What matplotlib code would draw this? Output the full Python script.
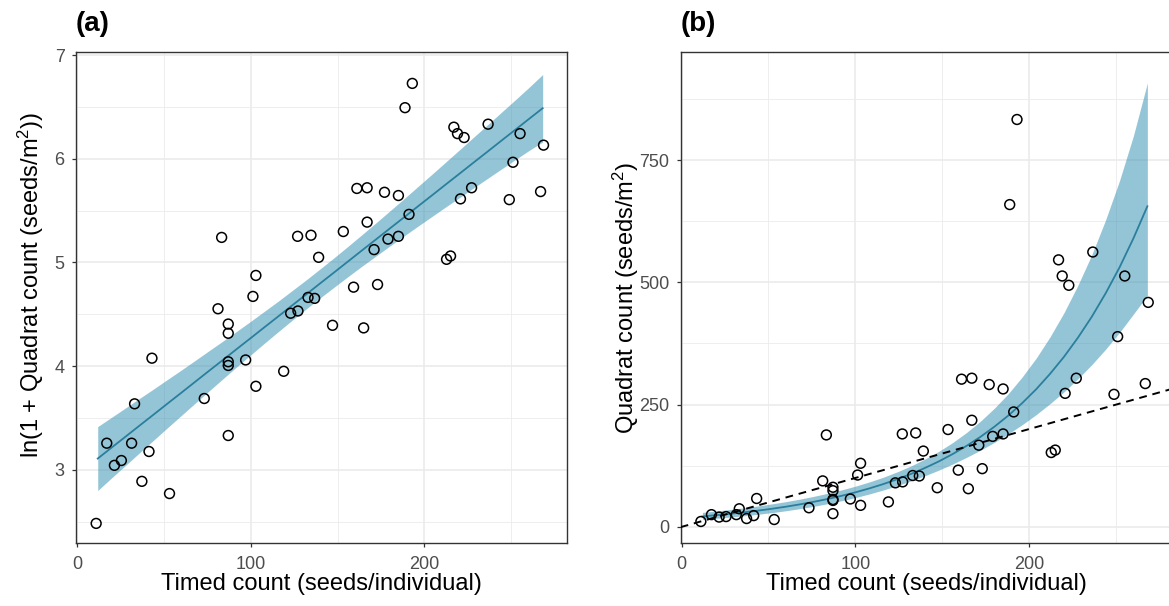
import numpy as np
import matplotlib
matplotlib.use("Agg")
import matplotlib.pyplot as plt
import matplotlib.ticker as mticker

plt.rcParams["font.family"] = ["Liberation Sans", "DejaVu Sans"]
plt.rcParams["mathtext.fontset"] = "custom"
plt.rcParams["mathtext.rm"] = "Liberation Sans"
plt.rcParams["mathtext.it"] = "Liberation Sans:italic"
plt.rcParams["mathtext.bf"] = "Liberation Sans:bold"

# ── data ─────────────────────────────────────────────────
timed = [11.1, 17.2, 21.6, 25.6, 31.5, 33.2, 37.4, 41.5, 43.2, 53.3,
         73.3, 81.2, 83.3, 87.1, 87.1, 87.1, 87.1, 87.1, 97.1, 101.3,
         103.0, 103.0, 119.0, 123.0, 127.2, 127.0, 134.7, 133.0, 136.8, 139.1,
         147.1, 153.3, 159.2, 161.1, 165.0, 167.0, 167.0, 171.0, 173.0, 177.0,
         179.0, 185.0, 185.0, 188.8, 191.1, 193.0, 212.7, 215.0, 216.9, 219.0,
         220.7, 222.8, 227.1, 236.6, 248.8, 250.9, 255.0, 266.8, 268.5]
quadrat = [11, 25, 20, 21, 25, 37, 17, 23, 58, 15,
           39, 94, 188, 81, 74, 56, 54, 27, 57, 106,
           130, 44, 51, 90, 92, 190, 192, 105, 104, 155,
           80, 199, 116, 302, 78, 304, 218, 167, 119, 291,
           185, 282, 190, 659, 235, 833, 152, 157, 546, 513,
           273, 494, 304, 562, 271, 389, 513, 293, 459]

# fitted model on the log scale, ln(1 + quadrat), with its 95% band
fit_x  = [12, 20, 28, 36, 44, 52, 60, 68, 76, 84, 92, 100, 108, 116, 124, 132, 140,
          148, 156, 164, 172, 180, 188, 196, 204, 212, 220, 228, 236, 244, 252, 260, 268]
fit_mu = [3.110, 3.216, 3.321, 3.427, 3.532, 3.638, 3.743, 3.849, 3.955, 4.060,
          4.166, 4.271, 4.377, 4.482, 4.588, 4.693, 4.799, 4.904, 5.010, 5.116,
          5.221, 5.327, 5.432, 5.538, 5.643, 5.749, 5.854, 5.960, 6.065, 6.171,
          6.276, 6.382, 6.487]
fit_lo = [2.802, 2.924, 3.044, 3.165, 3.285, 3.405, 3.524, 3.643, 3.761, 3.878,
          3.995, 4.109, 4.223, 4.335, 4.445, 4.553, 4.659, 4.762, 4.864, 4.964,
          5.061, 5.158, 5.253, 5.347, 5.440, 5.533, 5.624, 5.716, 5.807, 5.898,
          5.988, 6.078, 6.162]
fit_hi = [3.418, 3.508, 3.598, 3.689, 3.779, 3.871, 3.962, 4.055, 4.149, 4.242,
          4.337, 4.433, 4.531, 4.629, 4.731, 4.833, 4.939, 5.046, 5.156, 5.268,
          5.381, 5.496, 5.611, 5.729, 5.846, 5.965, 6.084, 6.204, 6.323, 6.444,
          6.564, 6.686, 6.812]

GRID = "#EBEBEB"
DARK = "#333333"
TICK = "#4D4D4D"
FILL = "#2b8cb0"
LINE = "#2a7f9c"

W, H = 1169, 606
fig = plt.figure(figsize=(W / 100, H / 100), dpi=100)
ax_a = fig.add_axes([76 / W, 63 / H, 491 / W, 491 / H])
ax_b = fig.add_axes([680.7 / W, 63 / H, 491 / W, 491 / H])


def style(ax, xmaj, xmin, ymaj, ymin):
    ax.set_axisbelow(True)
    ax.xaxis.set_major_locator(mticker.FixedLocator(xmaj))
    ax.xaxis.set_minor_locator(mticker.FixedLocator(xmin))
    ax.yaxis.set_major_locator(mticker.FixedLocator(ymaj))
    ax.yaxis.set_minor_locator(mticker.FixedLocator(ymin))
    ax.grid(which="major", color=GRID, lw=1.2)
    ax.grid(which="minor", color=GRID, lw=0.6)
    ax.tick_params(which="minor", length=0)
    ax.tick_params(which="major", length=3.2, width=0.9, color=DARK,
                   labelcolor=TICK, labelsize=13, pad=5)
    ax.tick_params(axis="x", pad=6)
    for s in ax.spines.values():
        s.set_color(DARK)
        s.set_linewidth(1.0)


x = np.array(timed)
q = np.array(quadrat)
fx = np.array(fit_x)
pts = dict(s=50, facecolors="none", edgecolors="black", linewidths=1.1, zorder=3)

# ── (a) log scale ────────────────────────────────────────
ax = ax_a
ax.fill_between(fx, fit_lo, fit_hi, color=FILL, alpha=0.5, lw=0, zorder=2)
ax.plot(fx, fit_mu, color=LINE, lw=1.3, zorder=2.5)
ax.scatter(x, np.log1p(q), **pts)
ax.set_xlim(-0.5, 282)
ax.set_ylim(2.296, 7.029)
style(ax, [0, 100, 200], [50, 150, 250], [3, 4, 5, 6, 7], [2.5, 3.5, 4.5, 5.5, 6.5])
ax.set_xlabel("Timed count (seeds/individual)", fontsize=17)
ax.set_ylabel("ln(1 + Quadrat count (seeds/m$^2$))", fontsize=17)
ax.xaxis.set_label_coords(0.5, -0.061)
ax.yaxis.set_label_coords(-0.061, 0.525)
ax.text(0, 1 + 21 / 491, "(a)", transform=ax.transAxes, fontsize=20,
        fontweight="bold", ha="left", va="baseline")

# ── (b) back-transformed ─────────────────────────────────
ax = ax_b
ax.fill_between(fx, np.expm1(fit_lo), np.expm1(fit_hi), color=FILL, alpha=0.5,
                lw=0, zorder=2)
ax.plot(fx, np.expm1(fit_mu), color=LINE, lw=1.3, zorder=2.5)
ax.axline((0, 0), slope=1, color="black", lw=1.4, linestyle=(0, (4, 3)), zorder=2.6)
ax.scatter(x, q, **pts)
ax.set_xlim(-0.5, 282)
ax.set_ylim(-33, 971)
style(ax, [0, 100, 200], [50, 150, 250], [0, 250, 500, 750], [125, 375, 625, 875])
ax.set_xlabel("Timed count (seeds/individual)", fontsize=17)
ax.set_ylabel("Quadrat count (seeds/m$^2$)", fontsize=17)
ax.xaxis.set_label_coords(0.5, -0.061)
ax.yaxis.set_label_coords(-0.081, 0.5)
ax.text(0, 1 + 21 / 491, "(b)", transform=ax.transAxes, fontsize=20,
        fontweight="bold", ha="left", va="baseline")

fig.savefig("out.png", dpi=100)
